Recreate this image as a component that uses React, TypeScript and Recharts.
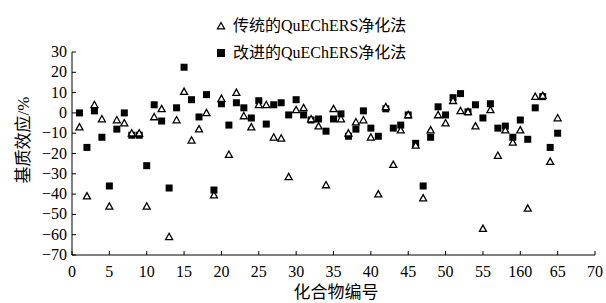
import { ScatterChart, Scatter, XAxis, YAxis } from 'recharts';

// compound numbers 1..65
const compounds = [
  1, 2, 3, 4, 5, 6, 7, 8, 9, 10, 11, 12, 13, 14, 15, 16, 17, 18, 19, 20,
  21, 22, 23, 24, 25, 26, 27, 28, 29, 30, 31, 32, 33, 34, 35, 36, 37, 38, 39, 40,
  41, 42, 43, 44, 45, 46, 47, 48, 49, 50, 51, 52, 53, 54, 55, 56, 57, 58, 59, 60,
  61, 62, 63, 64, 65,
];

// matrix effect, traditional QuEChERS cleanup (triangles)
const traditional = [
  -7, -41, 4, -3, -46, -3.5, -5, -10, -10, -46, -2, 2, -61, -3.5, 10.5, -13.5, -8, 0, -40.5, 7,
  -20.5, 10, -1.5, -7, 4, 4, -12, -12.5, -31.5, 1.5, 2.5, -3, -6.5, -35.5, 2, -3, -10, -4.5, -3.5, -12,
  -40, 3, -25.5, -8.5, -1, -16, -42, -8.5, -1, -5, 6, 1, 0.5, -6.5, -57, 1.5, -21, -8.5, -14.5, -8.5,
  -47, 8, 8.5, -24, -2.5,
];

// matrix effect, improved QuEChERS cleanup (squares)
const improved = [
  0, -17, 1, -12, -36, -8, 0, -11, -11, -26, 4, -4, -37, 2.5, 22.5, 6.5, -2, 9, -38, 4.5,
  -6, 5, 2.5, -2.5, 6, -5.5, 4, 5, -1, 6.5, -1, -3.5, -3, -9, -3, -0.5, -11.5, -8, 1, -7.5,
  -11.5, 2, -7.5, -6, -1, -15, -36, -12, 3, -1, 7.5, 9.5, 0.5, 4, -2.5, 4.5, -7.5, -6.5, -12, -3.5,
  -13, 2.5, 8, -17, -10,
];

const xTicks = [0, 5, 10, 15, 20, 25, 30, 35, 40, 45, 50, 55, 60, 65, 70];
const xTickLabels = ['0', '5', '10', '15', '20', '25', '30', '35', '40', '45', '50', '55', '160', '65', '70'];
const yTicks = [30, 20, 10, 0, -10, -20, -30, -40, -50, -60, -70];

const seriesNames = ['传统的QuEChERS净化法', '改进的QuEChERS净化法'];

const traditionalData = compounds.map((c, i) => ({ x: c, y: traditional[i] }));
const improvedData = compounds.map((c, i) => ({ x: c, y: improved[i] }));

const FONT = "'Liberation Serif', 'Noto Sans CJK SC', serif";

const Triangle = (props: any) => {
  const { cx, cy } = props;
  if (cx == null || cy == null) return null;
  return (
    <path
      d={`M${cx},${cy - 3.5} L${cx + 3.5},${cy + 2.8} L${cx - 3.5},${cy + 2.8} Z`}
      fill="#fff"
      stroke="#000"
      strokeWidth={1.3}
    />
  );
};

const Square = (props: any) => {
  const { cx, cy } = props;
  if (cx == null || cy == null) return null;
  return <rect x={cx - 3.5} y={cy - 3.5} width={7} height={7} fill="#000" />;
};

const XTick = (props: any) => {
  const { x, y, payload } = props;
  const idx = xTicks.indexOf(payload.value);
  return (
    <g>
      <line x1={x} y1={y} x2={x} y2={y - 4} stroke="#000" strokeWidth={1} />
      <text x={x} y={y + 22} textAnchor="middle" fontSize={16} fontFamily={FONT} fill="#000">
        {idx >= 0 ? xTickLabels[idx] : payload.value}
      </text>
    </g>
  );
};

const YTick = (props: any) => {
  const { x, y, payload } = props;
  const v = payload.value;
  const label = v < 0 ? `\u2212${Math.abs(v)}` : `${v}`;
  return (
    <g>
      <line x1={x} y1={y} x2={x + 4} y2={y} stroke="#000" strokeWidth={1} />
      <text x={x - 5} y={y + 5} textAnchor="end" fontSize={16} fontFamily={FONT} fill="#000">
        {label}
      </text>
    </g>
  );
};

export default function App() {
  return (
    <div style={{ position: 'absolute', left: 0, top: 0, width: 606, height: 303, background: '#fff' }}>
      <ScatterChart width={606} height={303} margin={{ top: 52, right: 11, bottom: 0, left: 0 }}>
        <XAxis
          type="number"
          dataKey="x"
          domain={[0, 70]}
          ticks={xTicks}
          interval={0}
          tickSize={0}
          tickMargin={0}
          tick={<XTick />}
          height={48}
          stroke="#000"
          label={{
            content: () => (
              <text x={336} y={298} textAnchor="middle" fontSize={17} fontFamily={FONT} fill="#000">
                化合物编号
              </text>
            ),
          }}
        />
        <YAxis
          type="number"
          dataKey="y"
          domain={[-70, 30]}
          ticks={yTicks}
          interval={0}
          tickSize={0}
          tickMargin={0}
          tick={<YTick />}
          width={72}
          stroke="#000"
          label={{
            content: () => (
              <text
                x={23}
                y={140}
                transform="rotate(-90 23 140)"
                textAnchor="middle"
                dominantBaseline="central"
                fontSize={17}
                fontFamily={FONT}
                fill="#000"
              >
                基质效应/%
              </text>
            ),
          }}
        />
        <Scatter name={seriesNames[1]} data={improvedData} shape={<Square />} isAnimationActive={false} />
        <Scatter name={seriesNames[0]} data={traditionalData} shape={<Triangle />} isAnimationActive={false} />
      </ScatterChart>
      <div
        style={{
          position: 'absolute',
          left: 215,
          top: 12,
          fontFamily: FONT,
          fontSize: 16,
          color: '#000',
          lineHeight: '27px',
        }}
      >
        <div style={{ display: 'flex', alignItems: 'center' }}>
          <svg width={12} height={12} style={{ marginRight: 6 }}>
            <path d="M6,2.5 L9.5,8.8 L2.5,8.8 Z" fill="#fff" stroke="#000" strokeWidth={1.3} />
          </svg>
          {seriesNames[0]}
        </div>
        <div style={{ display: 'flex', alignItems: 'center' }}>
          <svg width={12} height={12} style={{ marginRight: 6 }}>
            <rect x={2} y={2} width={8} height={8} fill="#000" />
          </svg>
          {seriesNames[1]}
        </div>
      </div>
    </div>
  );
}
